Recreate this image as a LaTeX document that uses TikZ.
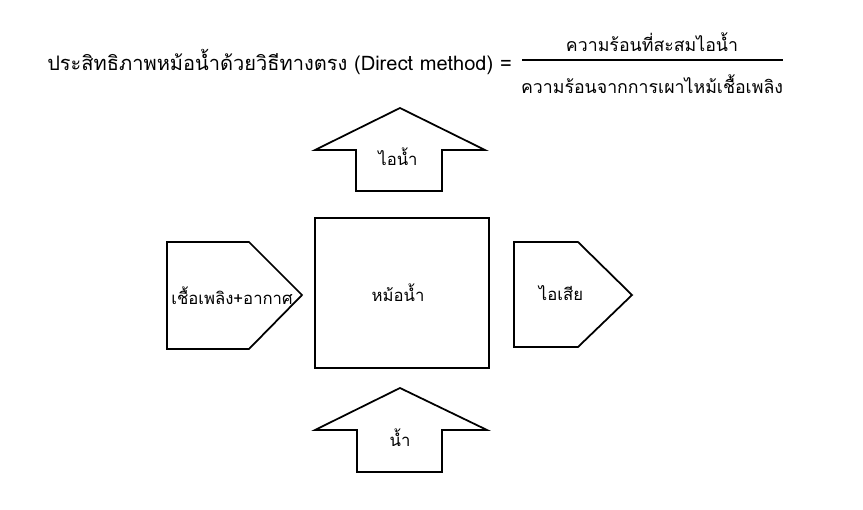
\documentclass[tikz,border=0pt]{standalone}
\usepackage{fontspec}
\newfontfamily\thaifont[Script=Thai]{Loma}
\usetikzlibrary{positioning}
\begin{document}
\begin{tikzpicture}[
    x=0.02cm, y=-0.02cm,
    every node/.style={font=\thaifont\fontsize{9.5}{11}\selectfont},
    eqtext/.style={font=\thaifont\fontsize{10.1}{12}\selectfont},
    flowshape/.style={draw, line width=1pt, fill=white, line join=miter}
]
    \useasboundingbox (0,0) rectangle (863,510);

    % === EQUATION ===
    \node[anchor=east, font=\thaifont\fontsize{11.4}{13}\selectfont] (eqleft) at (518,62) {ประสิทธิภาพหม้อน้ำด้วยวิธีทางตรง (Direct method) =};
    \draw[line width=1.2pt] (522,60) coordinate (fracl) -- (783,60) coordinate (fracr);
    \node[eqtext] (numer) at (652,42) {ความร้อนที่สะสมไอน้ำ};
    \node[eqtext] (denom) at (652,84) {ความร้อนจากการเผาไหม้เชื้อเพลิง};

    % === STEAM (top arrow) ===
    \draw[flowshape] (400,108) -- (485,150) -- (442,150) -- (442,191)
        -- (356,191) -- (356,150) -- (315,150) -- cycle;
    \node (steam) at (398,157) {ไอน้ำ};

    % === BOILER ===
    \draw[flowshape] (315,218) rectangle (489,368);
    \node (boiler) at (398,293) {หม้อน้ำ};

    % === FUEL + AIR (left) ===
    \draw[flowshape] (167,242) -- (249,242) -- (302,295) -- (249,349) -- (167,349) -- cycle;
    \node (fuel) at (232,296) {เชื้อเพลิง+อากาศ};

    % === FLUE GAS (right) ===
    \draw[flowshape] (514,242) -- (578,242) -- (632,295) -- (578,347) -- (514,347) -- cycle;
    \node (flue) at (561,293) {ไอเสีย};

    % === WATER (bottom arrow) ===
    \draw[flowshape] (400,388) -- (487,430) -- (442,430) -- (442,472)
        -- (357,472) -- (357,430) -- (315,430) -- cycle;
    \node (water) at (400,438) {น้ำ};
\end{tikzpicture}
\end{document}
